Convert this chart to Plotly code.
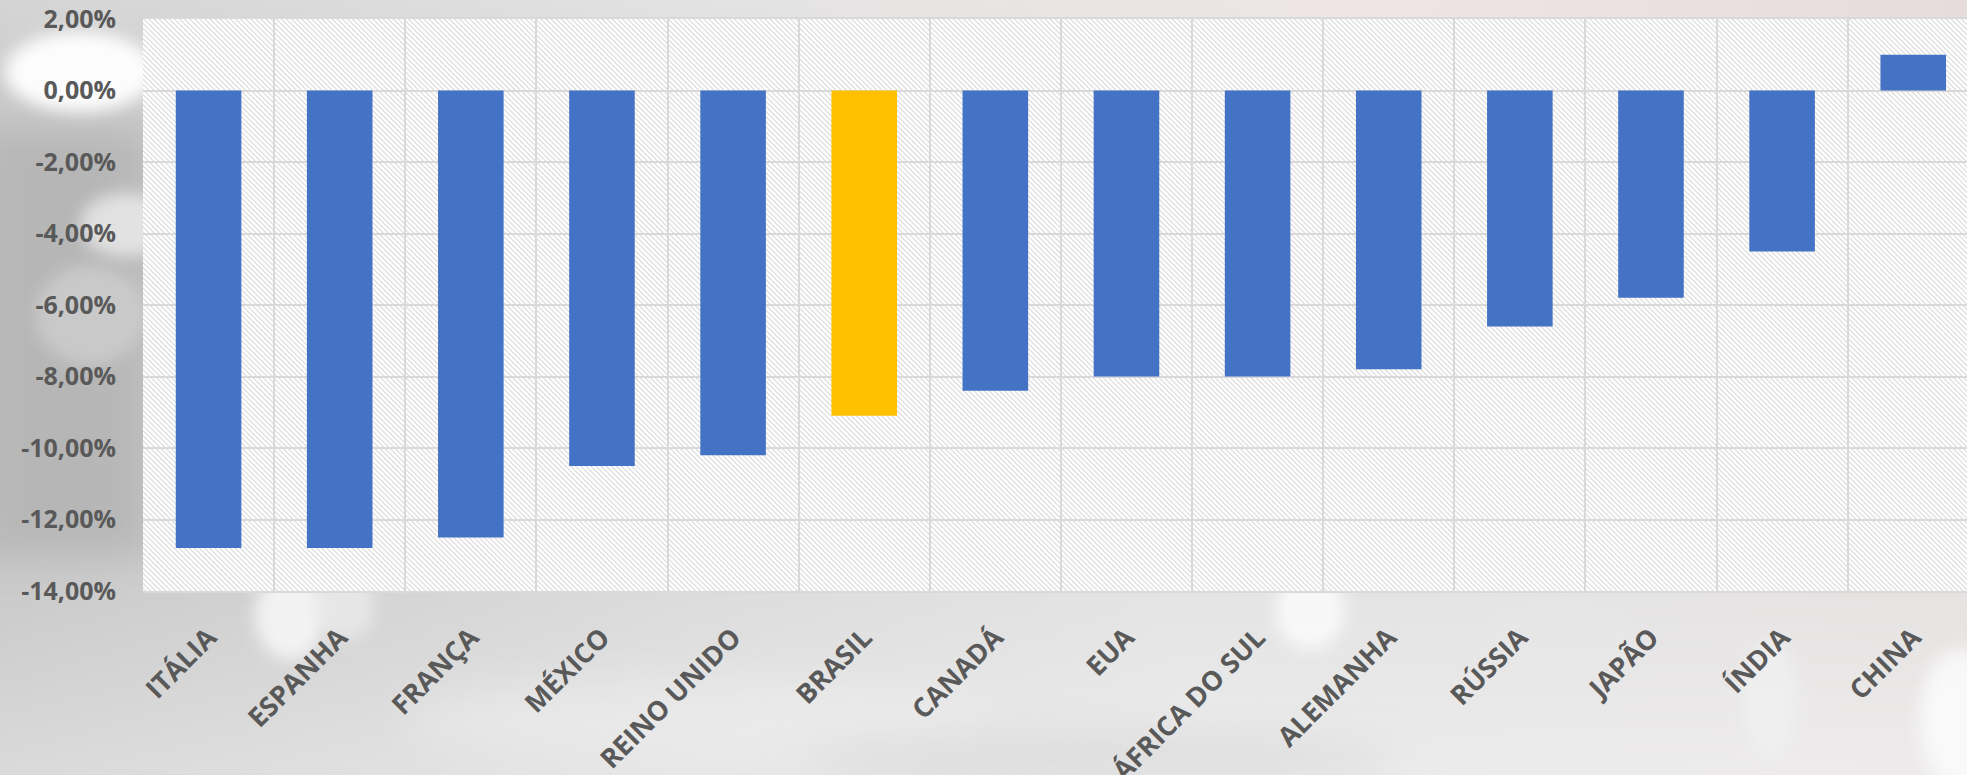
import base64
import plotly.graph_objects as go

# ---- data ----
countries = ["ITÁLIA", "ESPANHA", "FRANÇA", "MÉXICO", "REINO UNIDO", "BRASIL", "CANADÁ",
             "EUA", "ÁFRICA DO SUL", "ALEMANHA", "RÚSSIA", "JAPÃO", "ÍNDIA", "CHINA"]
growth = [-12.8, -12.8, -12.5, -10.5, -10.2, -9.1, -8.4, -8.0, -8.0, -7.8, -6.6, -5.8, -4.5, 1.0]
highlight = "BRASIL"
y_ticks = [2, 0, -2, -4, -6, -8, -10, -12, -14]
y_ticktext = [f"{v:.2f}".replace(".", ",") + "%" for v in y_ticks]

# ---- layout geometry ----
W, H = 1967, 775
ML, MR, MT, MB = 143, 0, 19, 184
PW, PH = W - ML - MR, H - MT - MB

BLUE = "#4472C4"
GOLD = "#FFC000"
colors = [GOLD if c == highlight else BLUE for c in countries]


def svg_uri(svg):
    return "data:image/svg+xml;base64," + base64.b64encode(svg.encode("utf-8")).decode("ascii")


bg_svg = f"""<svg xmlns="http://www.w3.org/2000/svg" width="{W}" height="{H}" viewBox="0 0 {W} {H}" preserveAspectRatio="none">
<defs>
<linearGradient id="g1" x1="0" y1="0" x2="1" y2="0">
<stop offset="0" stop-color="#c6c6c6"/><stop offset="0.35" stop-color="#d9d9d9"/>
<stop offset="0.6" stop-color="#e2e2e2"/><stop offset="1" stop-color="#e4e0e0"/>
</linearGradient>
<linearGradient id="g2" x1="0" y1="0" x2="0" y2="1">
<stop offset="0" stop-color="#ffffff" stop-opacity="0.25"/><stop offset="0.2" stop-color="#ffffff" stop-opacity="0"/>
<stop offset="0.7" stop-color="#ffffff" stop-opacity="0"/><stop offset="1" stop-color="#ffffff" stop-opacity="0.35"/>
</linearGradient>
<linearGradient id="pink" x1="0" y1="0" x2="1" y2="0">
<stop offset="0" stop-color="#eadede" stop-opacity="0"/><stop offset="0.55" stop-color="#f0e4e4" stop-opacity="0.9"/>
<stop offset="1" stop-color="#e6dcdc" stop-opacity="1"/>
</linearGradient>
<filter id="b8" x="-50%" y="-50%" width="200%" height="200%"><feGaussianBlur stdDeviation="8"/></filter>
<filter id="b20" x="-50%" y="-50%" width="200%" height="200%"><feGaussianBlur stdDeviation="20"/></filter>
</defs>
<rect width="{W}" height="{H}" fill="url(#g1)"/>
<rect x="-20" y="125" width="170" height="430" fill="#b4b4b4" opacity="0.85" filter="url(#b20)"/>
<rect width="{W}" height="{H}" fill="url(#g2)"/>
<rect x="700" y="0" width="{W-700}" height="22" fill="url(#pink)"/>
<ellipse cx="80" cy="72" rx="75" ry="40" fill="#ffffff" opacity="0.95" filter="url(#b8)"/>
<ellipse cx="125" cy="225" rx="45" ry="32" fill="#f0f0f0" opacity="0.75" filter="url(#b8)"/>
<ellipse cx="90" cy="315" rx="55" ry="50" fill="#d6d6d6" opacity="0.6" filter="url(#b8)"/>
<ellipse cx="290" cy="615" rx="35" ry="45" fill="#f6f6f6" opacity="0.9" filter="url(#b8)"/>
<ellipse cx="345" cy="605" rx="30" ry="35" fill="#eeeeee" opacity="0.7" filter="url(#b8)"/>
<ellipse cx="1310" cy="610" rx="35" ry="40" fill="#fafafa" opacity="0.9" filter="url(#b8)"/>
<ellipse cx="1560" cy="640" rx="80" ry="40" fill="#e8e8e8" opacity="0.6" filter="url(#b8)"/>
<ellipse cx="1770" cy="700" rx="28" ry="60" fill="#f2f2f2" opacity="0.7" filter="url(#b8)"/>
<ellipse cx="1960" cy="720" rx="40" ry="70" fill="#fbfbfb" opacity="0.9" filter="url(#b8)"/>
<ellipse cx="700" cy="720" rx="300" ry="40" fill="#f0f0f0" opacity="0.5" filter="url(#b20)"/>
<ellipse cx="1100" cy="760" rx="300" ry="30" fill="#d4d4d4" opacity="0.5" filter="url(#b20)"/>
</svg>"""

hatch_svg = f"""<svg xmlns="http://www.w3.org/2000/svg" width="{PW}" height="{PH}" viewBox="0 0 {PW} {PH}" preserveAspectRatio="none">
<defs>
<pattern id="h" patternUnits="userSpaceOnUse" width="3.6" height="3.6" patternTransform="rotate(-45)">
<rect width="3.6" height="3.6" fill="#ffffff"/>
<line x1="0.6" y1="0" x2="0.6" y2="3.6" stroke="#d4d4d4" stroke-width="1.0"/>
</pattern>
</defs>
<rect width="{PW}" height="{PH}" fill="url(#h)"/>
</svg>"""

fig = go.Figure()
fig.add_trace(go.Bar(
    x=countries, y=growth, marker=dict(color=colors, line=dict(width=0)),
    width=0.5, hoverinfo="x+y",
))

fig.update_layout(
    width=W, height=H,
    margin=dict(l=ML, r=MR, t=MT, b=MB, pad=0, autoexpand=False),
    paper_bgcolor="rgba(0,0,0,0)",
    plot_bgcolor="rgba(0,0,0,0)",
    showlegend=False,
    font=dict(family="Open Sans", color="#595959"),
    images=[
        dict(source=svg_uri(bg_svg), xref="paper", yref="paper",
             x=-ML / PW, y=1 + MT / PH, sizex=W / PW, sizey=H / PH,
             xanchor="left", yanchor="top", sizing="stretch", layer="below"),
        dict(source=svg_uri(hatch_svg), xref="paper", yref="paper",
             x=0, y=1, sizex=1, sizey=1,
             xanchor="left", yanchor="top", sizing="stretch", layer="below"),
    ],
    xaxis=dict(
        type="category", tickson="boundaries", showgrid=True, automargin=False,
        range=[-0.5, 13.41], autorange=False,
        gridcolor="#d9d9d9", gridwidth=2, ticks="",
        showline=True, linecolor="#d9d9d9", linewidth=2, mirror=True,
        tickangle=-45, ticklabelstandoff=18,
        tickfont=dict(family="Open Sans", size=27, color="#595959", weight="bold"),
    ),
    yaxis=dict(
        range=[-14, 2], tickvals=y_ticks, ticktext=y_ticktext, automargin=False,
        showgrid=True, gridcolor="#d9d9d9", gridwidth=2,
        zeroline=False, ticks="", ticklabelstandoff=26,
        showline=False,
        tickfont=dict(family="Open Sans", size=25, color="#595959", weight="bold"),
    ),
)

fig.write_html("out.html")
